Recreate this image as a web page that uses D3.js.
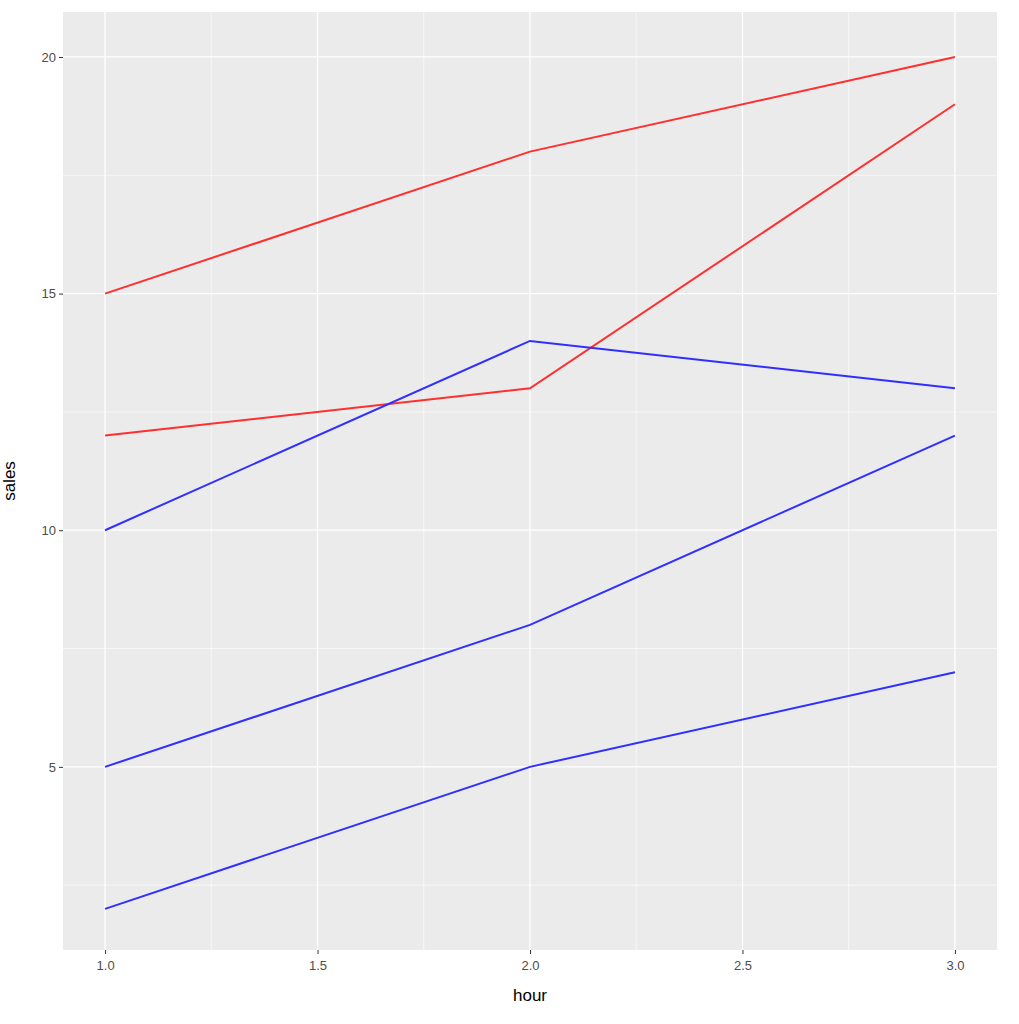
<!DOCTYPE html>
<html><head><meta charset="utf-8">
<script src="https://cdn.jsdelivr.net/npm/d3@7"></script>
<style>body{margin:0;background:#fff}</style></head>
<body><svg id="c" width="1019" height="1024"></svg>
<script>
const hours = [1, 2, 3];
const redA = [15, 18, 20];
const redB = [12, 13, 19];
const blueA = [10, 14, 13];
const blueB = [5, 8, 12];
const blueC = [2, 5, 7];
const seriesList = [
  {v: redA, c: "#ff2f2f"}, {v: redB, c: "#ff2f2f"},
  {v: blueA, c: "#2f2fff"}, {v: blueB, c: "#2f2fff"}, {v: blueC, c: "#2f2fff"}
];
const xTicks = [1.0, 1.5, 2.0, 2.5, 3.0];
const yTicks = [5, 10, 15, 20];

const svg = d3.select("#c");
const L = 63, R = 997, T = 12, B = 950;
const x = d3.scaleLinear().domain([0.901, 3.099]).range([L, R]);
const y = d3.scaleLinear().domain([1.13, 20.95]).range([B, T]);
svg.append("rect").attr("x", L).attr("y", T).attr("width", R - L).attr("height", B - T).attr("fill", "#ebebeb");
const g = svg.append("g");
[1.25, 1.75, 2.25, 2.75].forEach(v => g.append("line").attr("x1", x(v)).attr("x2", x(v)).attr("y1", T).attr("y2", B).attr("stroke", "#fff").attr("stroke-width", 0.6));
[2.5, 7.5, 12.5, 17.5].forEach(v => g.append("line").attr("y1", y(v)).attr("y2", y(v)).attr("x1", L).attr("x2", R).attr("stroke", "#fff").attr("stroke-width", 0.6));
xTicks.forEach(v => g.append("line").attr("x1", x(v)).attr("x2", x(v)).attr("y1", T).attr("y2", B).attr("stroke", "#fff").attr("stroke-width", 1.3));
yTicks.forEach(v => g.append("line").attr("y1", y(v)).attr("y2", y(v)).attr("x1", L).attr("x2", R).attr("stroke", "#fff").attr("stroke-width", 1.3));

const line = d3.line().x((d, i) => x(hours[i])).y(d => y(d));
seriesList.forEach(s => svg.append("path").attr("d", line(s.v)).attr("fill", "none").attr("stroke", s.c).attr("stroke-width", 2));

const xa = svg.append("g").attr("transform", `translate(0,${B})`).call(d3.axisBottom(x).tickValues(xTicks).tickFormat(d3.format(".1f")).tickSize(4));
const ya = svg.append("g").attr("transform", `translate(${L},0)`).call(d3.axisLeft(y).tickValues(yTicks).tickSize(4));
[xa, ya].forEach(a => {
  a.select(".domain").remove();
  a.selectAll("line").attr("stroke", "#333");
  a.selectAll("text").attr("fill", "#4d4d4d").style("font-family", "Liberation Sans, Arial").style("font-size", "13px");
});
xa.selectAll("text").attr("dy", "1.0em");
svg.append("text").attr("x", (L + R) / 2).attr("y", 1001).attr("text-anchor", "middle").style("font-family", "Liberation Sans, Arial").style("font-size", "17px").text("hour");
svg.append("text").attr("transform", `translate(15,${(T + B) / 2}) rotate(-90)`).attr("text-anchor", "middle").style("font-family", "Liberation Sans, Arial").style("font-size", "17px").text("sales");
</script></body></html>
